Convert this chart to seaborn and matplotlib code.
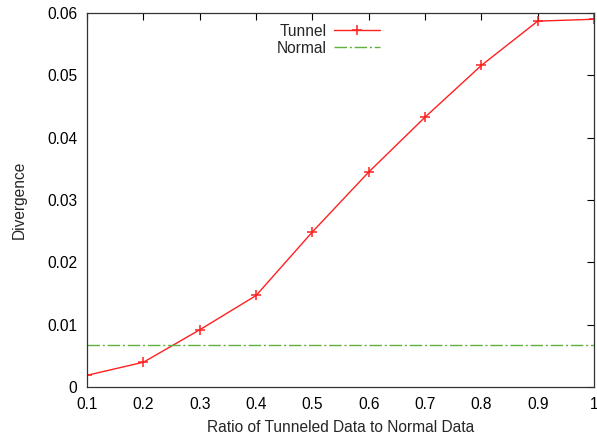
import pandas as pd
import matplotlib
matplotlib.use("Agg")
import matplotlib.pyplot as plt
import seaborn as sns

# dane
ratio = [0.1, 0.2, 0.3, 0.4, 0.5, 0.6, 0.7, 0.8, 0.9, 1.0]
tunnel = [0.0019, 0.0040, 0.0092, 0.0147, 0.0249, 0.0345, 0.0433, 0.0516, 0.0587, 0.0590]
normal_level = 0.0068

sns.set_style("white")
plt.rcParams["font.family"] = ["Liberation Sans", "DejaVu Sans"]

df = pd.DataFrame({"Ratio": ratio, "Tunnel": tunnel})
df["Normal"] = normal_level

fig = plt.figure(figsize=(5.97, 4.34), dpi=100)
ax = fig.add_axes([0.146, 0.108, 0.849, 0.862])

sns.lineplot(data=df, x="Ratio", y="Tunnel", ax=ax, color="#ff2020",
             linewidth=1.0, marker="+", markersize=6.5, markeredgewidth=1.1,
             markeredgecolor="#ff2020", label="Tunnel")
sns.lineplot(data=df, x="Ratio", y="Normal", ax=ax, color="#5fb03c",
             linewidth=1.0, dashes=False, linestyle=(0, (9, 2, 1.5, 2)),
             label="Normal")

fs = 11.2
ax.set_xlim(0.1, 1.0)
ax.set_ylim(0, 0.06)
ax.set_xticks([0.1, 0.2, 0.3, 0.4, 0.5, 0.6, 0.7, 0.8, 0.9, 1.0])
ax.set_xticklabels(["0.1", "0.2", "0.3", "0.4", "0.5", "0.6", "0.7", "0.8", "0.9", "1"])
ax.set_yticks([0, 0.01, 0.02, 0.03, 0.04, 0.05, 0.06])
ax.set_yticklabels(["0", "0.01", "0.02", "0.03", "0.04", "0.05", "0.06"])
ax.tick_params(direction="in", length=5, width=0.8, top=True, right=True,
               labelsize=fs, colors="black", pad=7)
for s in ax.spines.values():
    s.set_color("#333333")
    s.set_linewidth(0.9)

ax.set_xlabel("Ratio of Tunneled Data to Normal Data", fontsize=fs, labelpad=6)
ax.set_ylabel("Divergence", fontsize=fs, labelpad=15)

ax.legend(loc="upper right", bbox_to_anchor=(388 / 597, (434 - 16) / 434),
          bbox_transform=fig.transFigure, frameon=False,
          markerfirst=False, fontsize=fs, handlelength=3.0,
          handletextpad=0.45, labelspacing=0.12, borderpad=0)

fig.savefig("out.png", dpi=100)
